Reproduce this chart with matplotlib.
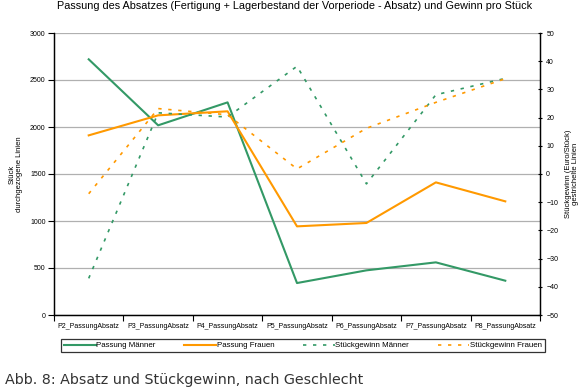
import numpy as np
import matplotlib.pyplot as plt

kategorien = ["P2_PassungAbsatz", "P3_PassungAbsatz", "P4_PassungAbsatz", "P5_PassungAbsatz",
              "P6_PassungAbsatz", "P7_PassungAbsatz", "P8_PassungAbsatz"]
passung_maenner = [2720, 2018, 2262, 340, 475, 560, 365]
passung_frauen = [1911, 2124, 2167, 943, 979, 1411, 1209]
gewinn_maenner = [-37, 21.7, 20.2, 38.2, -3.5, 28.1, 33.9]
gewinn_frauen = [-7, 23.2, 21.0, 1.8, 16.2, 25.4, 33.8]

gruen = "#339966"
orange = "#ff9900"
fs = 5
plt.rcParams["font.family"] = ["Liberation Sans", "DejaVu Sans"]

fig = plt.figure(figsize=(5.85, 3.87), dpi=100)
ax = fig.add_axes([54 / 585, 1 - 315 / 387, 486 / 585, 282 / 387])
ax2 = ax.twinx()

x = np.arange(len(kategorien))
l1, = ax.plot(x, passung_maenner, color=gruen, lw=1.5)
l2, = ax.plot(x, passung_frauen, color=orange, lw=1.5)
l3, = ax2.plot(x, gewinn_maenner, color=gruen, lw=1.2, ls=(0, (2, 4)))
l4, = ax2.plot(x, gewinn_frauen, color=orange, lw=1.2, ls=(0, (2, 4)))

ax.set_xlim(-0.5, len(kategorien) - 0.5)
ax.set_ylim(0, 3000)
ax.set_yticks(np.arange(0, 3001, 500))
ax2.set_ylim(-50, 50)
ax2.set_yticks(np.arange(-50, 51, 10))
ax.grid(axis="y", color="#b0b0b0", lw=0.9)
ax.set_axisbelow(True)

ax.set_xticks(x)
ax.set_xticklabels(kategorien, fontsize=fs)
ax.set_xticks(np.arange(-0.5, len(kategorien)), minor=True)
ax.tick_params(axis="x", which="major", length=0, pad=6)
ax.tick_params(axis="x", which="minor", length=4, direction="out", width=0.8)
ax.tick_params(axis="y", labelsize=fs, length=4, width=0.8, pad=2)
ax2.tick_params(axis="y", labelsize=fs, length=3, width=0.8, direction="inout", pad=3)

for a in (ax, ax2):
    a.spines["top"].set_visible(False)
    for s in ("left", "right", "bottom"):
        a.spines[s].set_linewidth(0.9)

fig.text(16 / 585, 1 - 174 / 387, "Stück\ndurchgezogene Linien", rotation=90, ha="center", va="center",
         fontsize=fs + 0.5, linespacing=1.1)
fig.text(572 / 585, 1 - 174 / 387, "Stückgewinn (Euro/Stück)\ngestrichelte Linien", rotation=90,
         ha="center", va="center", fontsize=fs + 0.5, linespacing=1.1)

fig.text(295 / 585, 1 - 6 / 387, "Passung des Absatzes (Fertigung + Lagerbestand der Vorperiode - Absatz) und Gewinn pro Stück",
         ha="center", va="center", fontsize=7.8)

leg = fig.legend([l1, l2, l3, l4], ["Passung Männer", "Passung Frauen", "Stückgewinn Männer", "Stückgewinn Frauen"],
                 loc="center", bbox_to_anchor=(303 / 585, 1 - 345.5 / 387), ncol=4, fontsize=fs + 0.7,
                 frameon=True, fancybox=False, edgecolor="black", handlelength=4, columnspacing=3.6,
                 borderpad=0.35, handletextpad=0.1, borderaxespad=0)
leg.get_frame().set_linewidth(0.9)

fig.text(5 / 585, 1 - 380 / 387, "Abb. 8: Absatz und Stückgewinn, nach Geschlecht", ha="left", va="center",
         fontsize=10.3, color="#333333", family="DejaVu Sans")

fig.savefig("out.png", dpi=100)
